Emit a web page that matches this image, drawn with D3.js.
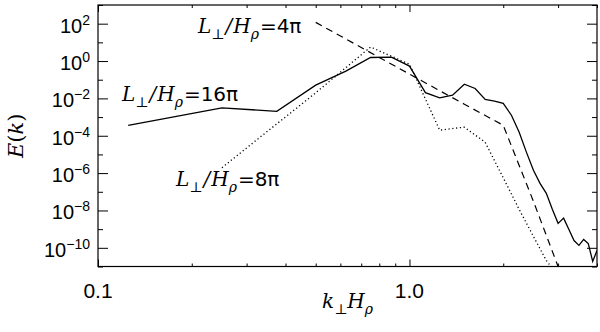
<!DOCTYPE html>
<html>
<head>
<meta charset="utf-8">
<script src="https://cdn.jsdelivr.net/npm/d3@7"></script>
<style>
  body { margin: 0; background: #fff; }
  svg { display: block; }
</style>
</head>
<body>
<svg id="chart"></svg>
<script>
// spectres E(k) pour trois tailles de boite (log10 de E)

const k16 = [0.125, 0.25, 0.375, 0.5, 0.625, 0.75, 0.875, 1.0, 1.125, 1.25, 1.375, 1.5,
    1.625, 1.75, 1.875, 2.0, 2.125, 2.25, 2.375, 2.5, 2.625, 2.75, 2.875, 3.0,
    3.125, 3.25, 3.375, 3.5, 3.625, 3.75, 3.875, 4.0];
const logE16 = [-3.44, -2.51, -2.69, -1.29, -0.54, 0.19, 0.21, -0.27, -1.69, -1.97, -1.83, -1.24,
    -1.47, -2.06, -2.15, -2.27, -2.90, -3.81, -4.89, -5.85, -6.55, -7.08, -7.94, -8.69,
    -8.41, -9.02, -9.61, -9.87, -9.55, -9.77, -10.73, -10.14];

const k8 = [0.25, 0.5, 0.75, 1.0, 1.25, 1.5, 1.75, 2.0, 2.25, 2.5, 2.75, 3.0];
const logE8 = [-5.71, -1.70, 0.75, -0.17, -3.70, -3.54, -4.35, -6.25, -7.94, -9.39, -10.68, -11.5];

const k4 = [0.5, 1.0, 1.5, 2.0, 2.5, 3.0];
const logE4 = [2.07, -0.70, -2.31, -3.44, -7.51, -11.0];

const xMajor = [0.1, 1.0];
const xMinor = [0.2, 0.3, 0.4, 0.5, 0.6, 0.7, 0.8, 0.9, 2, 3, 4];
const xLabels = ['0.1', '1.0'];
const yMajorExp = [-10, -8, -6, -4, -2, 0, 2];
const yMinorExp = [-11, -9, -7, -5, -3, -1, 1, 3];

const W = 600, H = 332;
const m = {left: 98, right: 3, top: 5, bottom: 65.5};

const svg = d3.select('#chart').attr('width', W).attr('height', H);

const x = d3.scaleLog().domain([0.1, 4]).range([m.left, W - m.right]);
const y = d3.scaleLog().domain([1e-11, 1e3]).range([H - m.bottom, m.top]);

const x0 = x.range()[0], x1 = x.range()[1];
const y0 = y.range()[0], y1 = y.range()[1];

// Axes (ticks vers l'intérieur, sur les quatre côtés)

function noLabels(a) {
    return a.tickFormat('').tickSizeOuter(0).tickPadding(0);
}

function axisGroup(axis, tx, ty) {
    const g = svg.append('g').attr('transform', `translate(${tx},${ty})`).call(axis);
    g.select('.domain').remove();
    g.selectAll('line').attr('stroke', '#000').attr('stroke-width', 1);
    return g;
}

const yMaj = yMajorExp.map(e => Math.pow(10, e));
const yMin = yMinorExp.map(e => Math.pow(10, e));

axisGroup(noLabels(d3.axisLeft(y).tickValues(yMaj).tickSizeInner(-10)), x0, 0);
axisGroup(noLabels(d3.axisLeft(y).tickValues(yMin).tickSizeInner(-5)), x0, 0);
axisGroup(noLabels(d3.axisRight(y).tickValues(yMaj).tickSizeInner(-10)), x1, 0);
axisGroup(noLabels(d3.axisRight(y).tickValues(yMin).tickSizeInner(-5)), x1, 0);

axisGroup(noLabels(d3.axisBottom(x).tickValues(xMajor).tickSizeInner(-7)), 0, y0);
axisGroup(noLabels(d3.axisBottom(x).tickValues(xMinor).tickSizeInner(-3)), 0, y0);
axisGroup(noLabels(d3.axisTop(x).tickValues(xMajor).tickSizeInner(-7)), 0, y1);
axisGroup(noLabels(d3.axisTop(x).tickValues(xMinor).tickSizeInner(-3)), 0, y1);

svg.append('rect')
    .attr('x', x0).attr('y', y1)
    .attr('width', x1 - x0).attr('height', y0 - y1)
    .attr('fill', 'none').attr('stroke', '#000').attr('stroke-width', 1.2);

// Étiquettes des ticks

const tickFont = '"Liberation Sans", Arial, sans-serif';

svg.append('g').selectAll('text')
    .data(xMajor)
    .enter()
    .append('text')
    .attr('x', d => x(d))
    .attr('y', y0 + 31)
    .attr('text-anchor', 'middle')
    .style('font-family', tickFont)
    .style('font-size', '21px')
    .text((d, i) => xLabels[i]);

const yLab = svg.append('g').selectAll('text')
    .data(yMajorExp)
    .enter()
    .append('text')
    .attr('x', x0 - 8)
    .attr('y', d => y(Math.pow(10, d)) + 9)
    .attr('text-anchor', 'end')
    .style('font-family', tickFont)
    .style('font-size', '20px');
yLab.append('tspan').text('10');
yLab.append('tspan')
    .attr('dy', -8)
    .style('font-size', '14px')
    .text(d => d < 0 ? '\u2212' + (-d) : String(d));

// Courbes

svg.append('clipPath').attr('id', 'plot-clip')
    .append('rect')
    .attr('x', x0).attr('y', y1)
    .attr('width', x1 - x0).attr('height', y0 - y1);

const line = d3.line()
    .x(d => x(d[0]))
    .y(d => y(Math.pow(10, d[1])));

const curves = [
    {k: k16, e: logE16, dash: null, w: 1.3},
    {k: k8, e: logE8, dash: '1.2,2.6', w: 1.3},
    {k: k4, e: logE4, dash: '7,5', w: 1.2}
];

svg.append('g').attr('clip-path', 'url(#plot-clip)')
    .selectAll('path')
    .data(curves)
    .enter()
    .append('path')
    .attr('d', c => line(d3.zip(c.k, c.e)))
    .attr('fill', 'none')
    .attr('stroke', '#000')
    .attr('stroke-width', c => c.w)
    .attr('stroke-dasharray', c => c.dash);

// Textes mathématiques

const serif = '"DejaVu Serif", "Liberation Serif", serif';
const sans = '"DejaVu Sans", "Liberation Sans", sans-serif';

function mathText(px, py, parts, size, rotate) {
    const t = svg.append('text')
        .attr('transform', `translate(${px},${py})` + (rotate ? ` rotate(${rotate})` : ''))
        .attr('text-anchor', rotate ? 'middle' : 'start')
        .style('font-family', serif)
        .style('font-size', size + 'px');
    let shift = 0;
    parts.forEach((p) => {
        const s = t.append('tspan').text(p.t);
        const target = p.sub ? size * 0.3 : 0;
        if (target !== shift) {
            s.attr('dy', target - shift);
            shift = target;
        }
        if (p.it) s.style('font-style', 'italic');
        if (p.sans) s.style('font-family', sans);
        if (p.sub) s.style('font-size', (size * 0.7) + 'px');
        if (p.dx) s.attr('dx', p.dx);
    });
    return t;
}

function ratioLabel(px, py, value) {
    return mathText(px, py, [
        {t: 'L', it: true},
        {t: '\u22a5', sub: true},
        {t: '/', it: true, dx: 1},
        {t: 'H', it: true, dx: 1},
        {t: '\u03c1', it: true, sub: true},
        {t: '=' + value, sans: true, dx: 1}
    ], 20);
}

ratioLabel(198, 33, '4\u03c0');
ratioLabel(122, 101, '16\u03c0');
ratioLabel(176, 186, '8\u03c0');

mathText((x0 + x1) / 2, 308, [
    {t: 'k', it: true},
    {t: '\u22a5', sub: true},
    {t: 'H', it: true},
    {t: '\u03c1', it: true, sub: true}
], 20).attr('text-anchor', 'middle');

mathText(23, (y0 + y1) / 2, [
    {t: 'E', it: true},
    {t: '('},
    {t: 'k', it: true},
    {t: ')'}
], 21, -90);
</script>
</body>
</html>
